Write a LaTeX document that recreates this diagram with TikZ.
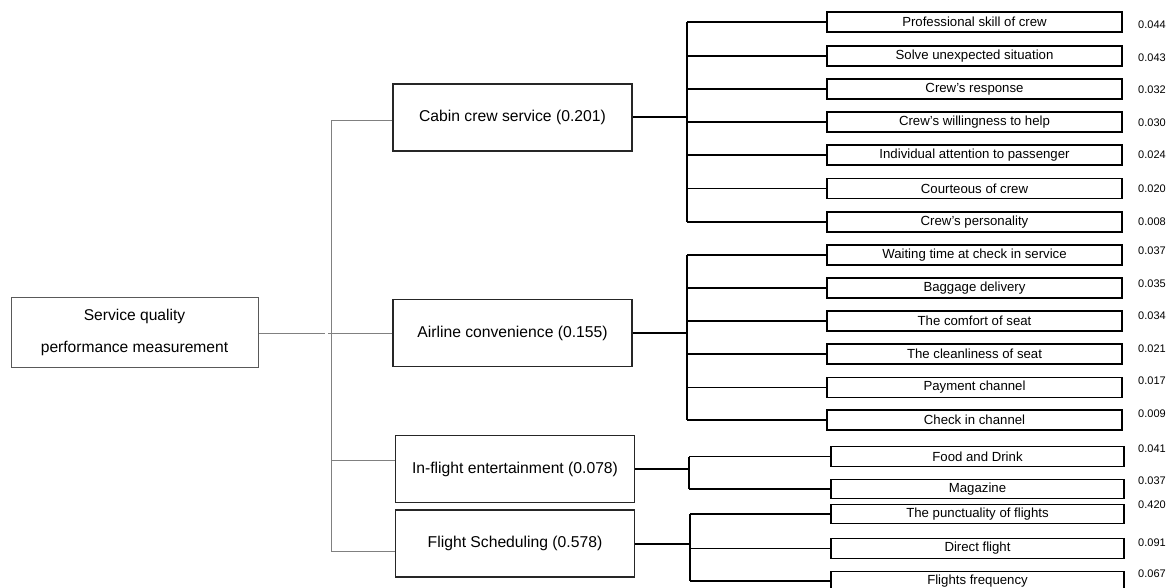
\documentclass[tikz,border=0pt]{standalone}
\usepackage{fontspec}
\setmainfont{Liberation Sans}
\begin{document}
\begin{tikzpicture}[x=1pt,y=-1pt,
  leaf/.style={draw=black, line width=1.2pt, minimum width=295pt, minimum height=20pt, inner sep=0pt, font=\fontsize{13.2}{15}\selectfont},
  leafb/.style={leaf, minimum width=293pt, minimum height=19.5pt},
  grp/.style={draw=black!85, line width=1.5pt, minimum width=239pt, minimum height=67pt, inner sep=0pt, font=\fontsize{15.7}{18}\selectfont},
  root/.style={draw=black!65, line width=1pt, minimum width=247pt, minimum height=70pt, inner sep=0pt, align=center, font=\fontsize{15.6}{32}\selectfont},
  wt/.style={anchor=west, inner sep=0pt, font=\fontsize{11}{12}\selectfont},
  tline/.style={draw=black!50, line width=1pt},
  cline/.style={draw=black, line width=1.2pt},
  gline/.style={draw=black, line width=2pt}]
\useasboundingbox (0,0) rectangle (1175,588);

% root
\node[root] (root) at (134.5,332) {Service quality\\performance measurement};

% groups
\node[grp] (cab) at (512.5,117.5) {Cabin crew service (0.201)};
\node[grp] (air) at (512.5,333) {Airline convenience (0.155)};
\node[grp] (inf) at (515,469) {In-flight entertainment (0.078)};
\node[grp] (sch) at (515,543.5) {Flight Scheduling (0.578)};

% level-1 bus
\coordinate (rootend) at (325,333);
\coordinate (bcab) at (331,121);
\coordinate (bair) at (328,333);
\coordinate (binf) at (331,460);
\coordinate (bsch) at (331,551);
\draw[tline] (root.east |- rootend) -- (rootend);
\draw[tline] (bcab) -- (bsch);
\draw[tline] (bcab) -- (bcab -| cab.west);
\draw[tline] (bair) -- (bair -| air.west);
\draw[tline] (binf) -- (binf -| inf.west);
\draw[tline] (bsch) -- (bsch -| sch.west);

% leaves
\foreach \n/\y/\t/\w/\wy in {
  c1/22/{Professional skill of crew}/0.044/25,
  c2/56/{Solve unexpected situation}/0.043/57.5,
  c3/89/{Crew's response}/0.032/90,
  c4/122/{Crew's willingness to help}/0.030/123,
  c5/155/{Individual attention to passenger}/0.024/155,
  c6/188.5/{Courteous of crew}/0.020/189,
  c7/222/{Crew's personality}/0.008/221.5,
  a1/255/{Waiting time at check in service}/0.037/251,
  a2/288/{Baggage delivery}/0.035/284,
  a3/321/{The comfort of seat}/0.034/316,
  a4/354/{The cleanliness of seat}/0.021/349,
  a5/387.5/{Payment channel}/0.017/381,
  a6/420/{Check in channel}/0.009/414}{
  \node[leaf] (\n) at (974.5,\y) {\t};
  \node[wt] (w\n) at (1138,\wy) {\w};
}
\foreach \n/\y/\t/\w/\wy in {
  f1/456.5/{Food and Drink}/0.041/449,
  f2/489/{Magazine}/0.037/481,
  s1/514/{The punctuality of flights}/0.420/505,
  s2/548.5/{Direct flight}/0.091/543,
  s3/581/{Flights frequency}/0.067/574}{
  \node[leafb] (\n) at (977.5,\y) {\t};
  \node[wt] (w\n) at (1138,\wy) {\w};
}

% level-2 buses
\coordinate (kcab) at (687,0);
\coordinate (kair) at (687,0);
\coordinate (kinf) at (689,0);
\coordinate (ksch) at (690,0);

\draw[gline] (cab.east) -- (cab.east -| kcab);
\draw[cline] (kcab |- c1.west) -- (kcab |- c7.west);
\foreach \n in {c1,c2,c3,c4,c5,c6,c7}{\draw[cline] (kcab |- \n.west) -- (\n.west);}

\draw[gline] (air.east) -- (air.east -| kair);
\draw[cline] (kair |- a1.west) -- (kair |- a6.west);
\foreach \n in {a1,a2,a3,a4,a5,a6}{\draw[cline] (kair |- \n.west) -- (\n.west);}

\draw[gline] (inf.east) -- (inf.east -| kinf);
\draw[cline] (kinf |- f1.west) -- (kinf |- f2.west);
\foreach \n in {f1,f2}{\draw[cline] (kinf |- \n.west) -- (\n.west);}

\draw[gline] (sch.east) -- (sch.east -| ksch);
\draw[cline] (ksch |- s1.west) -- (ksch |- s3.west);
\foreach \n in {s1,s2,s3}{\draw[cline] (ksch |- \n.west) -- (\n.west);}
\end{tikzpicture}
\end{document}
